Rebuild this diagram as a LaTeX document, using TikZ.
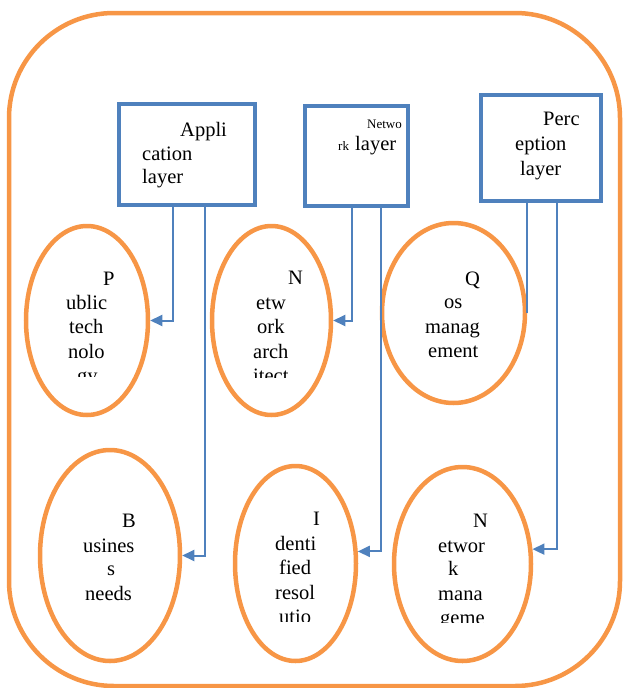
\documentclass[tikz,border=0pt]{standalone}
\usepackage{fontspec}
\setmainfont{Liberation Serif}
\usetikzlibrary{arrows.meta,shapes.geometric}
\definecolor{ofcblue}{HTML}{4F81BD}
\definecolor{ofcorange}{HTML}{F79646}
\begin{document}
\begin{tikzpicture}[x=1pt,y=-1pt,
  frame/.style={draw=ofcorange, line width=4.5pt, rounded corners=105pt},
  layerbox/.style={draw=ofcblue, line width=4pt, fill=white, rectangle, inner sep=0pt},
  topic/.style={draw=ofcorange, line width=4.5pt, ellipse, inner sep=0pt},
  conn/.style={draw=ofcblue, line width=2pt},
  arr/.style={conn, -{Triangle[length=12pt,width=11pt]}},
  txt/.style={font=\fontsize{20.5}{24}\selectfont, inner sep=0pt, anchor=base west},
  smalltxt/.style={font=\fontsize{13}{15}\selectfont, inner sep=0pt, anchor=base west}]
\useasboundingbox (0,0) rectangle (624,688);

% outer frame
\draw[frame] (9,13) rectangle (620,686);

% layer boxes
\node[layerbox, minimum width=136pt, minimum height=101pt] (app) at (187,154.5) {};
\node[layerbox, minimum width=103pt, minimum height=100pt] (net) at (356.5,156) {};
\node[layerbox, minimum width=120pt, minimum height=106pt] (per) at (541,148) {};

% topic ellipses
\node[topic, minimum width=122pt, minimum height=189pt] (pub)   at (87,320.5) {};
\node[topic, minimum width=119pt, minimum height=189pt] (arch)  at (271.5,320.5) {};
\node[topic, minimum width=143pt, minimum height=180pt] (qos)   at (453.5,313) {};
\node[topic, minimum width=140pt, minimum height=211pt] (bus)   at (110,555.5) {};
\node[topic, minimum width=121pt, minimum height=195pt] (ident) at (295.5,563.5) {};
\node[topic, minimum width=137pt, minimum height=194pt] (netm)  at (462.5,564) {};

% drop columns of the connectors
\coordinate (c1) at (173,0);
\coordinate (c2) at (205,0);
\coordinate (c3) at (352,0);
\coordinate (c4) at (381,0);
\coordinate (c5) at (527,0);
\coordinate (c6) at (557,0);

% connectors
\draw[arr] (app.south -| c1) |- (pub.east);
\draw[arr] (app.south -| c2) |- (bus.east);
\draw[arr] (net.south -| c3) |- (arch.east);
\draw[arr] (net.south -| c4) |- (ident.11);
\draw[conn] (per.south -| c5) -- (qos.east -| c5);
\draw[arr] (per.south -| c6) |- (netm.12);

% box labels
\node[txt] (app1) at (180,136) {Appli};
\node[txt] (app2) at (142,160) {cation};
\node[txt] (app3) at (142,183) {layer};

\node[smalltxt] (net1) at (367,128) {Netwo};
\node[smalltxt] (net2) at (338,150) {rk};
\node[txt] (net3) at (355,150) {layer};

\node[txt] (per1) at (543,125) {Perc};
\node[txt] (per2) at (515,150) {eption};
\node[txt] (per3) at (520,175) {layer};

% ellipse labels
\begin{scope}
  \clip (30,260) rectangle (140,376);
  \node[txt] (pub1) at (103,285) {P};
  \node[txt] (pub2) at (66,309) {ublic};
  \node[txt] (pub3) at (69,333) {tech};
  \node[txt] (pub4) at (68,358) {nolo};
  \node[txt] (pub5) at (77,382) {gy};
\end{scope}

\begin{scope}
  \clip (220,260) rectangle (325,377);
  \node[txt] (arch1) at (288,284) {N};
  \node[txt] (arch2) at (256,309) {etw};
  \node[txt] (arch3) at (257,333) {ork};
  \node[txt] (arch4) at (253,358) {arch};
  \node[txt] (arch5) at (253,382) {itect};
\end{scope}

\node[txt] (qos1) at (465,285) {Q};
\node[txt] (qos2) at (444,308) {os};
\node[txt] (qos3) at (425,333) {manag};
\node[txt] (qos4) at (428,357) {ement};

\node[txt] (bus1) at (122,527) {B};
\node[txt] (bus2) at (83,552) {usines};
\node[txt] (bus3) at (107,575) {s};
\node[txt] (bus4) at (85,600) {needs};

\begin{scope}
  \clip (240,500) rectangle (350,621);
  \node[txt] (ident1) at (313,525) {I};
  \node[txt] (ident2) at (275,550) {denti};
  \node[txt] (ident3) at (279,574) {fied};
  \node[txt] (ident4) at (275,599) {resol};
  \node[txt] (ident5) at (279,623) {utio};
\end{scope}

\begin{scope}
  \clip (400,500) rectangle (525,622);
  \node[txt] (netm1) at (473,527) {N};
  \node[txt] (netm2) at (438,552) {etwor};
  \node[txt] (netm3) at (448,575) {k};
  \node[txt] (netm4) at (438,600) {mana};
  \node[txt] (netm5) at (440,624) {geme};
\end{scope}
\end{tikzpicture}
\end{document}
